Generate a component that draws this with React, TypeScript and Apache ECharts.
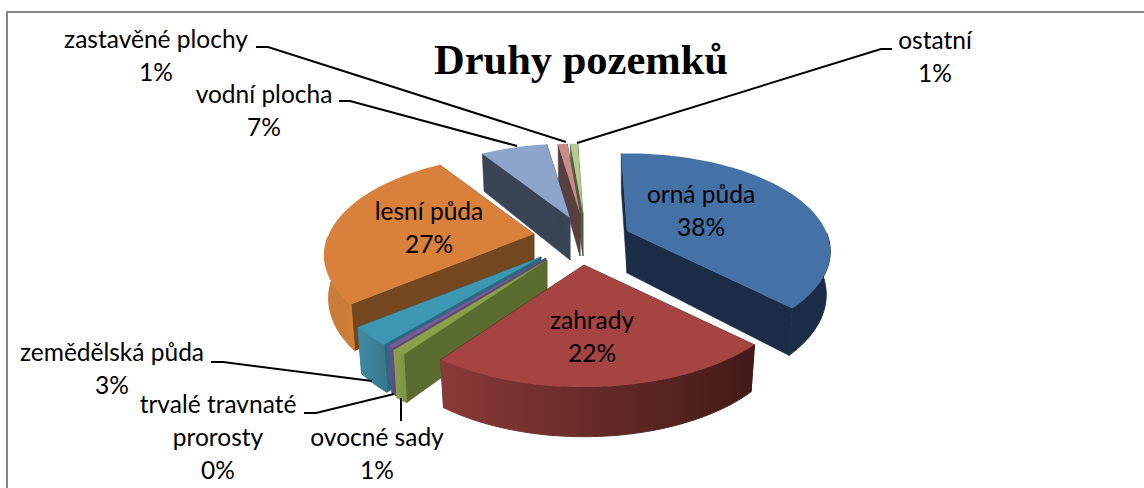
import React, { useEffect, useRef } from "react";
import * as echarts from "echarts";

const categories = ["orná půda", "zahrady", "ovocné sady", "trvalé travnaté\nprorosty", "zemědělská půda", "lesní půda", "vodní plocha", "zastavěné plochy", "ostatní"];
const values = [38.3, 22.6, 0.9, 0.4, 3, 27, 6.8, 1, 0.8];
const percentLabels = ["38%", "22%", "1%", "0%", "3%", "27%", "7%", "1%", "1%"];
const titleText = "Druhy pozemků";

const topColors = ["#4471A6", "#A64442", "#8AA04A", "#7A5C9E", "#3F98B2", "#D9813A", "#8EA5CB", "#C98C8B", "#B5CB90"];
const cutColors = ["#1B2D46", "#4A1C1A", "#5B6C31", "#5D4A7B", "#286B80", "#74471F", "#394554", "#5A3F40", "#4D6040"];
const outerStops = [
  ["#1B2D46", "#1B2D46"],
  ["#8A3A38", "#421A17"],
  ["#8AA04A", "#7C9444"],
  ["#6A5190", "#5D4A7B"],
  ["#3E8BA3", "#38788D"],
  ["#C77B38", "#D07E38"],
  ["#394554", "#394554"],
  ["#5A3F40", "#5A3F40"],
  ["#4D6040", "#4D6040"],
];

// geometry of the exploded 3D pie
const apexes = [[627, 231], [584, 265], [547, 260], [546, 258], [541, 257], [534, 234], [570, 218], [580, 214], [583, 214]];
const radiusScales = [0.97, 1, 1, 1, 1, 1, 0.93, 0.88, 0.88];
const drawOrder = [8, 7, 6, 5, 0, 4, 3, 2, 1];
const startAngle = -2;
const RX = 205, RY = 96.6, PERSP = 0.208, DEPTH = 42;

const total = values.reduce((a, b) => a + b, 0);
const cumulative = values.map((_, i) => values.slice(0, i).reduce((a, b) => a + b, 0));

type Pt = [number, number];

function top(i: number, deg: number): Pt {
  const t = (deg * Math.PI) / 180;
  const u = Math.sin(t), v = -Math.cos(t);
  const w = radiusScales[i] / (1 - PERSP * v);
  return [apexes[i][0] + RX * u * w, apexes[i][1] + RY * v * w];
}
function depthAt(deg: number) {
  const v = -Math.cos((deg * Math.PI) / 180);
  const w = 1 / (1 - PERSP * v);
  return DEPTH * (1 + 0.7 * (w - 1));
}
function low(i: number, deg: number, p: Pt): Pt {
  return [apexes[i][0] + (p[0] - apexes[i][0]) * 0.98, p[1] + depthAt(deg)];
}

function renderSlice(_: any, api: any) {
  const i = api.value(0) as number;
  const a0 = startAngle + (cumulative[i] / total) * 360;
  const a1 = a0 + (values[i] / total) * 360;
  const apex = apexes[i] as Pt;
  const apexLow: Pt = [apex[0], apex[1] + DEPTH];
  const arc: number[] = [];
  const steps = Math.max(2, Math.ceil((a1 - a0) / 2));
  for (let k = 0; k <= steps; k++) arc.push(a0 + ((a1 - a0) * k) / steps);
  const arcPts = arc.map((d) => top(i, d));
  const children: any[] = [];
  const cut = (deg: number) => {
    const p = top(i, deg);
    children.push({ type: "polygon", shape: { points: [apex, p, low(i, deg, p), apexLow] }, style: { fill: cutColors[i], stroke: cutColors[i], lineWidth: 0.6 } });
  };
  cut(a0);
  cut(a1);
  const front = arc.filter((d) => {
    const n = ((d % 360) + 360) % 360;
    return n >= 90 && n <= 270;
  });
  if (front.length > 1) {
    const upper = front.map((d) => top(i, d));
    const lower = front.map((d, k) => low(i, d, upper[k]));
    const gradient = () =>
      new echarts.graphic.LinearGradient(0, 0, 1, 0, [
        { offset: 0, color: outerStops[i][0] },
        { offset: 1, color: outerStops[i][1] },
      ]);
    children.push({
      type: "polygon",
      shape: { points: [...upper, ...lower.reverse()] },
      style: { fill: gradient(), stroke: gradient(), lineWidth: 1 },
    });
  }
  children.push({ type: "polygon", shape: { points: [apex, ...arcPts] }, style: { fill: topColors[i] } });
  return { type: "group", children };
}

const labelFont = "Lato, Carlito, sans-serif";
const LABEL_SIZE = 24.5;
// label centre x, first-line centre y for each category
const labelPos = [[701, 195], [592, 321], [377, 438], [218, 405], [112, 353], [429, 212], [264, 95], [156, 40], [935, 41]];
const leaders: Pt[][] = [
  [[256, 47], [268, 47], [566, 142]],
  [[339, 101], [350, 101], [517, 146]],
  [[892, 49], [881, 49], [577, 143]],
  [[211, 362], [223, 362], [372, 381]],
  [[304, 413], [316, 413], [394, 394]],
  [[401, 398], [401, 421]],
];

export default function App() {
  const ref = useRef<HTMLDivElement>(null);
  useEffect(() => {
    const chart = echarts.init(ref.current!, null, { renderer: "svg" });
    chart.setOption({
      animation: false,
      backgroundColor: "#fff",
      graphic: [
        { type: "rect", shape: { x: 7, y: 12, width: 1140, height: 480 }, style: { fill: "none", stroke: "#868686", lineWidth: 2 }, z: 0 },
        {
          type: "text", x: 581, y: 59, z: 5,
          style: { text: titleText, fill: "#000", font: "bold 42.5px 'Liberation Serif', serif", textAlign: "center", textVerticalAlign: "middle" },
        },
        ...leaders.map((pts) => ({ type: "polyline", z: 6, shape: { points: pts }, style: { stroke: "#000", lineWidth: 2, fill: "none" } })),
        ...categories.map((name, i) => ({
          type: "text", x: labelPos[i][0], y: labelPos[i][1] - 18, z: 7,
          style: {
            text: `${name}\n${percentLabels[i]}`, fill: "#000", font: `${LABEL_SIZE}px ${labelFont}`,
            textAlign: "center", textVerticalAlign: "top", lineHeight: 33,
          },
        })),
      ],
      series: [
        {
          type: "custom",
          coordinateSystem: "none",
          silent: true,
          z: 2,
          renderItem: renderSlice,
          data: drawOrder.map((i) => [i, values[i]]),
        },
      ],
    });
    return () => chart.dispose();
  }, []);
  return <div ref={ref} style={{ position: "fixed", left: 0, top: 0, width: 1144, height: 488 }} />;
}
